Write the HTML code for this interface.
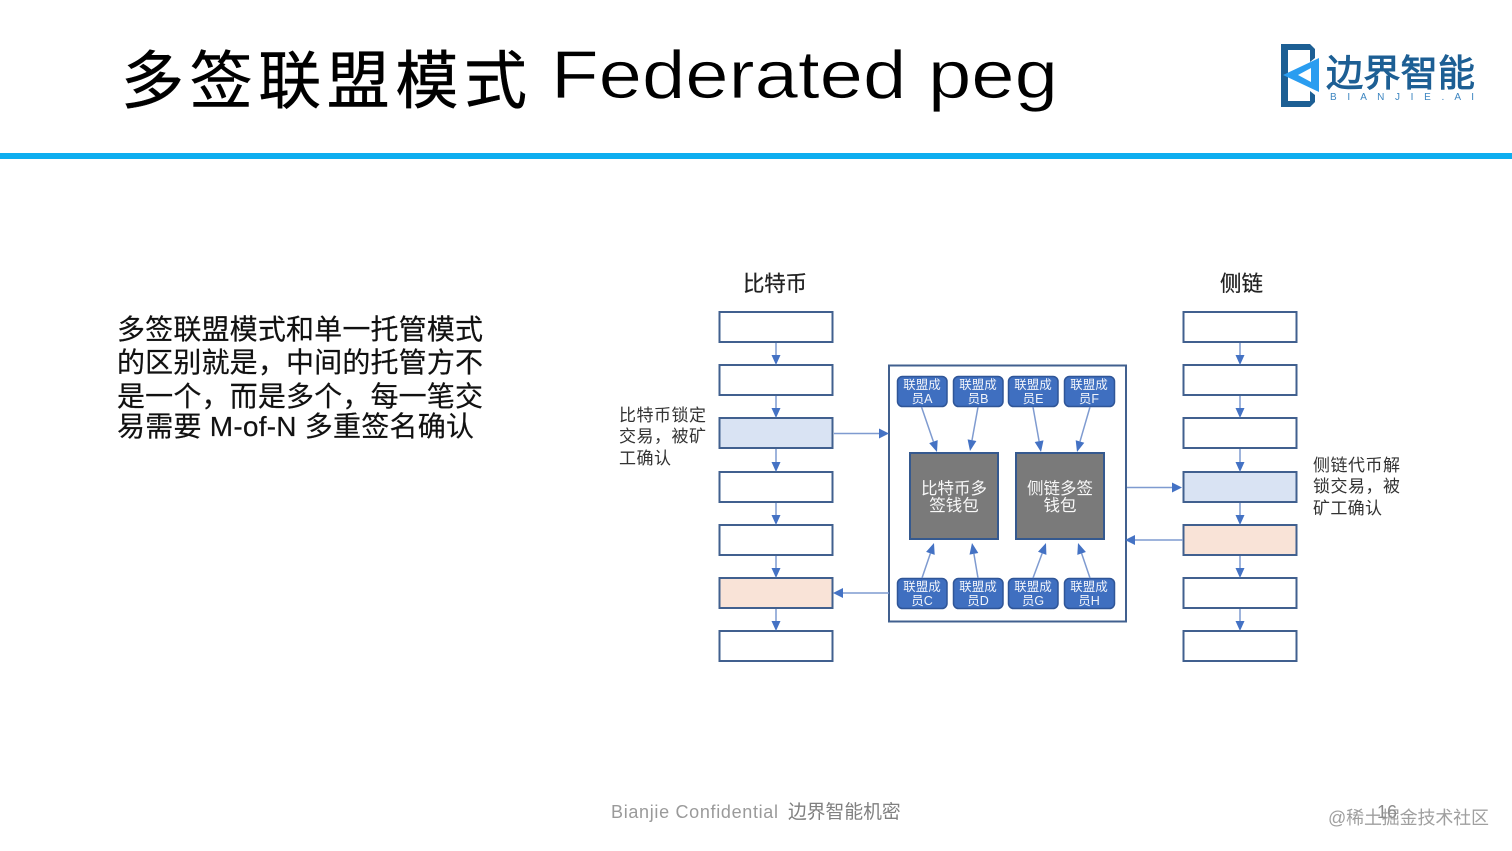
<!DOCTYPE html>
<html><head><meta charset="utf-8"><style>
html,body{margin:0;padding:0;background:#fff;width:1512px;height:851px;overflow:hidden}
svg{display:block}
text{font-family:"Liberation Sans","Noto Sans CJK SC",sans-serif}
.b{fill:#fff;stroke:#41608f;stroke-width:2}
.m{fill:#3f6fc0;stroke:#2f5597;stroke-width:1.5}
.mt{fill:#fff;font-size:12.5px;text-anchor:middle;opacity:.92}
.w{fill:#7a7a7a;stroke:#35598f;stroke-width:2}
.wt{fill:#fff;font-size:16.5px;text-anchor:middle;opacity:.95}
.l{stroke:#7f9bd0;stroke-width:1.5;fill:none}
.h{fill:#4472c4}
.t{font-size:28px;fill:#111;stroke:#111;stroke-width:.2}
.n{font-size:17px;fill:#333}
</style></head><body>
<svg width="1512" height="851" viewBox="0 0 1512 851" xmlns="http://www.w3.org/2000/svg">
<text x="121" y="103" font-size="63" fill="#000" stroke="#000" stroke-width=".5" textLength="406">多签联盟模式</text>
<text x="551" y="98" font-size="68" fill="#000" stroke="#fff" stroke-width=".7" paint-order="fill" textLength="507" lengthAdjust="spacingAndGlyphs">Federated peg</text>
<rect x="0" y="153" width="1512" height="6" fill="#0eaef0"/>

<path d="M1281 44H1310L1315 49V58L1310 62V50H1288V101H1310V91L1315 95V102L1310 107H1281Z" fill="#1d5f94"/>
<path d="M1319 58V92L1283 75Z M1311 68L1298 75L1311 82Z" fill="#2a9df0" fill-rule="evenodd"/>
<text x="1326" y="86" font-size="37" fill="#1d5f94" stroke="#1d5f94" stroke-width=".9" textLength="149" lengthAdjust="spacingAndGlyphs">边界智能</text>
<text x="1330" y="100" font-size="10" fill="#3c85c0" textLength="144">B I A N J I E . A I</text>

<text class="t" x="117" y="339" textLength="366">多签联盟模式和单一托管模式</text>
<text class="t" x="117" y="372" textLength="366">的区别就是，中间的托管方不</text>
<text class="t" x="117" y="406" textLength="366">是一个，而是多个，每一笔交</text>
<text class="t" x="117" y="436" textLength="357">易需要 M-of-N 多重签名确认</text>

<text x="743" y="291" font-size="21.500" fill="#222" stroke="#222" stroke-width=".25" textLength="64">比特币</text>
<text x="1220" y="291" font-size="21.500" fill="#222" stroke="#222" stroke-width=".25" textLength="43">侧链</text>

<rect class="b" x="719.5" y="312" width="113" height="30"/>
<rect class="b" x="719.5" y="365" width="113" height="30"/>
<rect class="b" x="719.5" y="418" width="113" height="30" style="fill:#d9e3f3"/>
<rect class="b" x="719.5" y="472" width="113" height="30"/>
<rect class="b" x="719.5" y="525" width="113" height="30"/>
<rect class="b" x="719.5" y="578" width="113" height="30" style="fill:#f9e3d7"/>
<rect class="b" x="719.5" y="631" width="113" height="30"/>

<rect class="b" x="1183.5" y="312" width="113" height="30"/>
<rect class="b" x="1183.5" y="365" width="113" height="30"/>
<rect class="b" x="1183.5" y="418" width="113" height="30"/>
<rect class="b" x="1183.5" y="472" width="113" height="30" style="fill:#d9e3f3"/>
<rect class="b" x="1183.5" y="525" width="113" height="30" style="fill:#f9e3d7"/>
<rect class="b" x="1183.5" y="578" width="113" height="30"/>
<rect class="b" x="1183.5" y="631" width="113" height="30"/>

<path class="l" d="M776 343V356M776 396V409M776 449V463M776 503V516M776 556V569M776 609V622M1240 343V356M1240 396V409M1240 449V463M1240 503V516M1240 556V569M1240 609V622"/>
<path class="h" d="M771.500 355h9l-4.500 10zM771.500 408h9l-4.500 10zM771.500 462h9l-4.500 10zM771.500 515h9l-4.500 10zM771.500 568h9l-4.500 10zM771.500 621h9l-4.500 10zM1235.500 355h9l-4.500 10zM1235.500 408h9l-4.500 10zM1235.500 462h9l-4.500 10zM1235.500 515h9l-4.500 10zM1235.500 568h9l-4.500 10zM1235.500 621h9l-4.500 10z"/>

<text class="n" x="619" y="421" textLength="87">比特币锁定</text>
<text class="n" x="619" y="442" textLength="87">交易，被矿</text>
<text class="n" x="619" y="464" textLength="52">工确认</text>
<text class="n" x="1313" y="471" textLength="87">侧链代币解</text>
<text class="n" x="1313" y="492" textLength="87">锁交易，被</text>
<text class="n" x="1313" y="514" textLength="69">矿工确认</text>

<rect x="889" y="365.500" width="237" height="256" fill="#fff" stroke="#41608f" stroke-width="2"/>

<path class="l" d="M834 433.500H880M1127 487.500H1174M1183 540H1134M889 593H841"/>
<path class="h" d="M879 428.500l10 5-10 5zM1172 482.500l10 5-10 5zM1135 535l-10 5 10 5zM843 588l-10 5 10 5z"/>

<rect class="m" x="897.500" y="376.500" width="49.500" height="30" rx="5"/>
<rect class="m" x="953.500" y="376.500" width="49.500" height="30" rx="5"/>
<rect class="m" x="1008.500" y="376.500" width="49.500" height="30" rx="5"/>
<rect class="m" x="1064.500" y="376.500" width="50" height="30" rx="5"/>
<rect class="m" x="897.500" y="578.500" width="49.500" height="30" rx="5"/>
<rect class="m" x="953.500" y="578.500" width="49.500" height="30" rx="5"/>
<rect class="m" x="1008.500" y="578.500" width="49.500" height="30" rx="5"/>
<rect class="m" x="1064.500" y="578.500" width="50" height="30" rx="5"/>
<text class="mt" x="922" y="389">联盟成</text><text class="mt" x="922" y="403">员A</text>
<text class="mt" x="978" y="389">联盟成</text><text class="mt" x="978" y="403">员B</text>
<text class="mt" x="1033" y="389">联盟成</text><text class="mt" x="1033" y="403">员E</text>
<text class="mt" x="1089" y="389">联盟成</text><text class="mt" x="1089" y="403">员F</text>
<text class="mt" x="922" y="591">联盟成</text><text class="mt" x="922" y="605">员C</text>
<text class="mt" x="978" y="591">联盟成</text><text class="mt" x="978" y="605">员D</text>
<text class="mt" x="1033" y="591">联盟成</text><text class="mt" x="1033" y="605">员G</text>
<text class="mt" x="1089" y="591">联盟成</text><text class="mt" x="1089" y="605">员H</text>

<rect class="w" x="910" y="453" width="88" height="86"/>
<rect class="w" x="1016" y="453" width="88" height="86"/>
<text class="wt" x="954" y="494">比特币多</text><text class="wt" x="954" y="511">签钱包</text>
<text class="wt" x="1060" y="494">侧链多签</text><text class="wt" x="1060" y="511">钱包</text>

<path class="l" d="M921.500 407L933.400 441.600M978 407L972 440.200M1033 407L1039.100 441.200M1090 407L1080 441.400M922 578L930.400 553.400M978 578L973.900 553.800M1033 578L1042.200 553.300M1090 578L1081.600 553.400"/>
<path class="h" d="M937 452L937.700 440.100L929.200 443.100ZM970 451L976.400 441L967.600 439.400ZM1041 452L1043.500 440.400L1034.700 442ZM1077 452L1084.300 442.700L1075.700 440.200ZM934 543L934.700 554.900L926.100 551.900ZM972 543L978.300 553L969.500 554.600ZM1046 543L1046.400 554.900L1038 551.700ZM1078 543L1085.900 552L1077.300 554.900Z"/>

<text x="611" y="818" font-size="18" fill="#9a9a9a" textLength="167">Bianjie Confidential</text>
<text x="788" y="818" font-size="18.800" fill="#808080">边界智能机密</text>
<text x="1377" y="818" font-size="18" fill="#8c8c8c">16</text>
<text x="1328" y="824" font-size="18" fill="#8f8f8f" opacity=".85" textLength="161">@稀土掘金技术社区</text>
</svg>
</body></html>
